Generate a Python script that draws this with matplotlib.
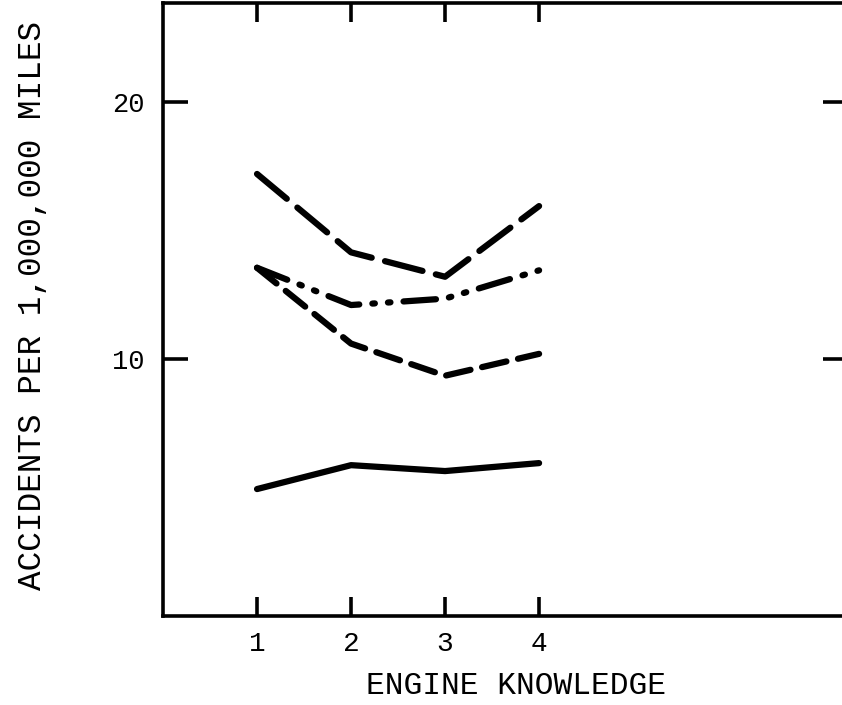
import matplotlib.pyplot as plt

knowledge = [1, 2, 3, 4]
group_a = [17.2, 14.15, 13.2, 15.95]   # long dashes
group_b = [13.55, 12.1, 12.35, 13.45]  # dash-dot-dot
group_c = [13.55, 10.6, 9.35, 10.2]    # short dashes
group_d = [4.94, 5.87, 5.64, 5.95]     # solid

plt.rcParams['font.family'] = ['Liberation Mono', 'DejaVu Sans Mono']

fig = plt.figure(figsize=(8.42, 7.05), dpi=100)
ax = fig.add_axes([0.1936, 0.1262, 0.814, 0.8695])

lw = 4.5
ax.plot(knowledge, group_a, color='black', lw=lw, dashes=(6.2, 2.2), dash_capstyle='round', solid_capstyle='round')
ax.plot(knowledge, group_b, color='black', lw=lw, dashes=(5.2, 2.1, 0.4, 2.1, 0.4, 2.1), dash_capstyle='round')
ax.plot(knowledge, group_c, color='black', lw=lw, dashes=(4.0, 1.9), dash_capstyle='round')
ax.plot(knowledge, group_d, color='black', lw=lw, solid_capstyle='round', solid_joinstyle='round')

ax.set_xlim(0, 7.29)
ax.set_ylim(0, 23.85)
ax.set_xticks(knowledge)
ax.set_yticks([10, 20])

for s in ax.spines.values():
    s.set_linewidth(2.6)

ax.tick_params(axis='both', which='major', direction='in', length=14, width=2.6,
               top=True, right=True)
ax.tick_params(axis='x', pad=11, labelsize=20)
ax.tick_params(axis='y', pad=13, length=18, labelsize=19.5)

ax.set_xlabel('ENGINE KNOWLEDGE', fontsize=22.5)
ax.xaxis.set_label_coords(0.515, -0.09)
ax.set_ylabel('ACCIDENTS PER 1,000,000 MILES', fontsize=23.5)
ax.yaxis.set_label_coords(-0.168, 0.507)

fig.savefig('out.png', dpi=100)
